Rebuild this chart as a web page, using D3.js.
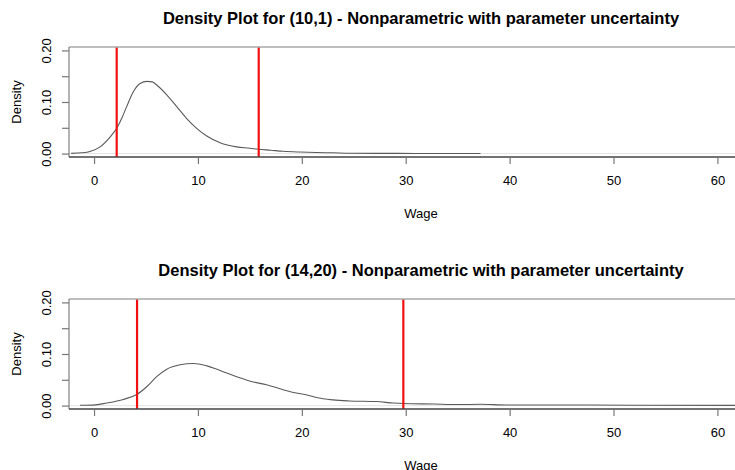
<!DOCTYPE html>
<html>
<head>
<meta charset="utf-8">
<script src="https://cdn.jsdelivr.net/npm/d3@7"></script>
<style>
  html, body { margin: 0; padding: 0; background: #fff; }
  svg { display: block; }
  text { font-family: "Liberation Sans", Arial, Helvetica, sans-serif; fill: #000; }
</style>
</head>
<body>
<svg id="chart" width="735" height="470"></svg>
<script>
// Kernel density estimates of wage, one panel per cell
const topTitle = "Density Plot for (10,1) - Nonparametric with parameter uncertainty";
const topWage = [-2.2, -1.2, -0.39, 0.58, 1.54, 2.18, 2.7, 3.14, 3.78, 4.43, 5.1, 5.6, 6.03, 7.0, 7.96, 8.92, 9.88, 10.85, 12.13, 13.73, 15.0, 15.8, 17.0, 18.2, 19.8, 21.4, 23.0, 24.6, 27.5, 31.0, 37.2];
const topDensity = [0.0005, 0.0015, 0.004, 0.013, 0.032, 0.049, 0.07, 0.091, 0.120, 0.136, 0.140, 0.139, 0.133, 0.114, 0.091, 0.068, 0.049, 0.034, 0.021, 0.013, 0.0105, 0.0084, 0.0065, 0.0045, 0.003, 0.002, 0.0015, 0.0008, 0.0005, 0.0003, 0.0001];
const topBounds = [2.18, 15.85];

const bottomTitle = "Density Plot for (14,20) - Nonparametric with parameter uncertainty";
const bottomWage = [-1.35, -0.07, 1.22, 2.82, 4.11, 5.07, 6.03, 7.0, 8.28, 9.56, 10.85, 12.13, 13.73, 15.33, 16.6, 17.9, 19.2, 20.6, 21.4, 23.0, 24.6, 27.2, 28.8, 29.8, 32.7, 34.9, 37.2, 39.7, 45.5, 51.9, 62.0, 66.0];
const bottomDensity = [0.0006, 0.001, 0.005, 0.012, 0.0215, 0.0365, 0.056, 0.0705, 0.079, 0.0816, 0.077, 0.068, 0.056, 0.0457, 0.0404, 0.0326, 0.0255, 0.0202, 0.0157, 0.011, 0.009, 0.0078, 0.005, 0.004, 0.003, 0.002, 0.0025, 0.0012, 0.0012, 0.0007, 0.0005, 0.0004];
const bottomBounds = [4.14, 29.77];

const xTicks = [0, 10, 20, 30, 40, 50, 60];
const yTicks = [0, 0.05, 0.10, 0.15, 0.20];
const yTickLabels = ["0.00", "", "0.10", "", "0.20"];
const xLabel = "Wage";
const yLabel = "Density";

const svg = d3.select("#chart");

const plotLeft = 69, plotRight = 773;
const x = d3.scaleLinear().domain([-2.41, 65.35]).range([plotLeft, plotRight]);
const fontStack = '"Liberation Sans", Arial, sans-serif';

function panel(top, title, wage, density, bounds, idx) {
  const boxTop = top, boxBottom = top + 110;
  const y = d3.scaleLinear().domain([-0.0066, 0.2066]).range([boxBottom, boxTop]);
  const g = svg.append("g");

  const clipId = "clip" + idx;
  g.append("clipPath").attr("id", clipId)
    .append("rect").attr("x", plotLeft).attr("y", boxTop)
    .attr("width", plotRight - plotLeft).attr("height", boxBottom - boxTop);

  // zero line
  g.append("line")
    .attr("x1", plotLeft).attr("x2", plotRight)
    .attr("y1", y(0)).attr("y2", y(0))
    .attr("stroke", "#e4e4e4").attr("stroke-width", 1);

  // density curve
  const line = d3.line()
    .x((d, i) => x(wage[i]))
    .y(d => y(d))
    .curve(d3.curveMonotoneX);
  g.append("path")
    .datum(density)
    .attr("clip-path", `url(#${clipId})`)
    .attr("d", line)
    .attr("fill", "none")
    .attr("stroke", "#5a5a5a")
    .attr("stroke-width", 1.1);

  // interval bounds
  g.selectAll("line.bound").data(bounds).enter().append("line")
    .attr("class", "bound")
    .attr("x1", d => x(d)).attr("x2", d => x(d))
    .attr("y1", boxTop).attr("y2", boxBottom)
    .attr("stroke", "#f01010").attr("stroke-width", 2.2);

  // box: top and left in gray, bottom axis darker
  g.append("line").attr("x1", plotLeft).attr("x2", plotRight)
    .attr("y1", boxTop).attr("y2", boxTop)
    .attr("stroke", "#a8a8a8").attr("stroke-width", 1.6);
  g.append("line").attr("x1", plotLeft).attr("x2", plotLeft)
    .attr("y1", boxTop).attr("y2", boxBottom)
    .attr("stroke", "#8a8a8a").attr("stroke-width", 1.3);
  g.append("line").attr("x1", plotLeft).attr("x2", plotRight)
    .attr("y1", boxBottom).attr("y2", boxBottom)
    .attr("stroke", "#444").attr("stroke-width", 1.3);

  // x axis
  const xAxis = d3.axisBottom(x).tickValues(xTicks).tickSize(7).tickPadding(12).tickFormat(d3.format("d"));
  const gx = g.append("g").attr("transform", `translate(0,${boxBottom})`).call(xAxis);
  gx.select(".domain").remove();
  gx.selectAll(".tick line").attr("stroke", "#777").attr("stroke-width", 1.2);
  gx.selectAll(".tick text").attr("font-size", 13)
    .style("font-family", fontStack).attr("fill", "#111");

  // y axis
  const yAxis = d3.axisLeft(y).tickValues(yTicks).tickSize(7).tickPadding(0)
    .tickFormat((d, i) => yTickLabels[i]);
  const gy = g.append("g").attr("transform", `translate(${plotLeft},0)`).call(yAxis);
  gy.select(".domain").remove();
  gy.selectAll(".tick line").attr("stroke", "#777").attr("stroke-width", 1.2);
  gy.selectAll(".tick text")
    .attr("x", 0).attr("dy", 0)
    .attr("text-anchor", "middle")
    .attr("transform", "translate(-18,0) rotate(-90)")
    .attr("font-size", 13)
    .style("font-family", fontStack).attr("fill", "#111");

  // axis titles
  g.append("text")
    .attr("x", (plotLeft + plotRight) / 2).attr("y", boxBottom + 61)
    .attr("text-anchor", "middle").attr("font-size", 13)
    .text(xLabel);
  g.append("text")
    .attr("transform", `translate(21,${(boxTop + boxBottom) / 2}) rotate(-90)`)
    .attr("text-anchor", "middle").attr("font-size", 13)
    .text(yLabel);

  // title
  g.append("text")
    .attr("x", (plotLeft + plotRight) / 2).attr("y", boxTop - 23)
    .attr("text-anchor", "middle").attr("font-size", 16.5).attr("font-weight", "bold")
    .text(title);
}

panel(47, topTitle, topWage, topDensity, topBounds, 0);
panel(299, bottomTitle, bottomWage, bottomDensity, bottomBounds, 1);
</script>
</body>
</html>
